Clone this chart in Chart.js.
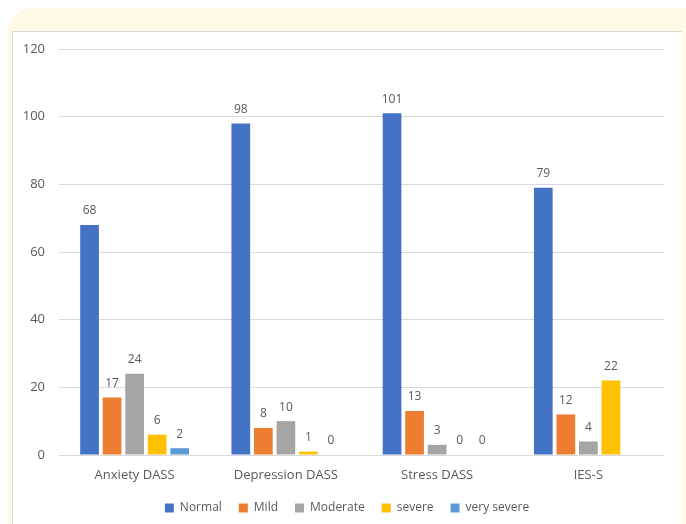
<!DOCTYPE html>
<html>
<head>
<meta charset="utf-8">
<script src="https://cdn.jsdelivr.net/npm/chart.js@4"></script>
<style>
  html, body { margin: 0; padding: 0; background: #fff; }
  #frame { position: relative; width: 686px; height: 524px; overflow: hidden; }
  #cream {
    position: absolute; left: 8px; top: 8px; width: 700px; height: 560px;
    background: #fffae8; border-radius: 24px;
  }
  #panel {
    position: absolute; left: 12px; top: 31px; width: 669px; height: 520px;
    background: #fff; border-top: 1px solid #d9d9d9; border-left: 1px solid #d9d9d9;
  }
  #barChart { position: absolute; left: 0; top: 0; }
</style>
</head>
<body>
<div id="frame">
  <div id="cream"></div>
  <div id="panel"></div>
  <canvas id="barChart" width="686" height="524"></canvas>
</div>
<script>
const categories = ["Anxiety DASS", "Depression DASS", "Stress DASS", "IES-S"];
const normal = [68, 98, 101, 79];
const mild = [17, 8, 13, 12];
const moderate = [24, 10, 3, 4];
const severe = [6, 1, 0, 22];
const verySevere = [2, 0, 0, null];
const yTicks = [0, 20, 40, 60, 80, 100, 120];

const textColor = "#595959";
const fontFamily = "'Open Sans', sans-serif";

// draws the value above each bar (no datalabels plugin offline)
const valueLabels = {
  id: "valueLabels",
  afterDatasetsDraw(chart) {
    const ctx = chart.ctx;
    ctx.save();
    ctx.font = "12px " + fontFamily;
    ctx.fillStyle = textColor;
    ctx.textAlign = "center";
    ctx.textBaseline = "bottom";
    chart.data.datasets.forEach((ds, i) => {
      chart.getDatasetMeta(i).data.forEach((bar, j) => {
        const v = ds.data[j];
        if (v === null || v === undefined) return;
        ctx.fillText(String(v), bar.x, bar.y - 8);
      });
    });
    ctx.restore();
  },
};

// centre the legend on the white panel instead of the plot
const legendShift = {
  id: "legendShift",
  beforeDraw(chart) {
    chart.legend.left = 13;
    chart.legend.right = 681;
  },
};

const dataBar = {
  labels: categories,
  datasets: [
    { label: "Normal", data: normal, backgroundColor: "#4472c4" },
    { label: "Mild", data: mild, backgroundColor: "#ed7d31" },
    { label: "Moderate", data: moderate, backgroundColor: "#a5a5a5" },
    { label: "severe", data: severe, backgroundColor: "#ffc000" },
    { label: "very severe", data: verySevere, backgroundColor: "#5b9bd5" },
  ],
};

const configBar = {
  type: "bar",
  data: dataBar,
  plugins: [valueLabels, legendShift],
  options: {
    responsive: false,
    animation: false,
    categoryPercentage: 0.745,
    barPercentage: 0.83,
    layout: { padding: { top: 49, right: 22, bottom: 0, left: 0 } },
    scales: {
      x: {
        grid: { display: false, drawTicks: false },
        border: { display: false },
        ticks: { color: textColor, padding: 12, font: { family: fontFamily, size: 13 } },
        afterFit: (scale) => { scale.height = 30; },
      },
      y: {
        min: 0,
        max: 120,
        afterBuildTicks: (scale) => { scale.ticks = yTicks.map((v) => ({ value: v })); },
        grid: { color: "#d9d9d9", drawTicks: false },
        border: { display: false },
        ticks: { color: textColor, padding: 14, font: { family: fontFamily, size: 13 } },
        afterFit: (scale) => { scale.width = 59; },
      },
    },
    plugins: {
      legend: {
        position: "bottom",
        labels: {
          boxWidth: 9,
          boxHeight: 9,
          padding: 17,
          color: textColor,
          font: { family: fontFamily, size: 12 },
        },
      },
      tooltip: { enabled: false },
    },
  },
};

var myBarChart = new Chart(document.getElementById("barChart"), configBar);
</script>
</body>
</html>
